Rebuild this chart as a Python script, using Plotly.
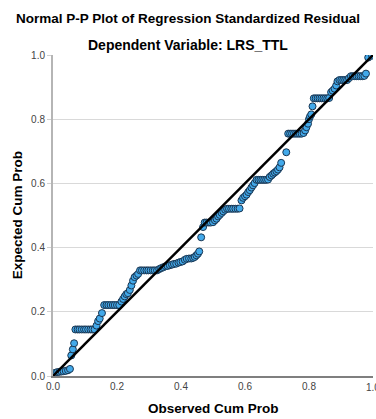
import plotly.graph_objects as go

# Observed cumulative probability (x) and expected cumulative probability (y)
observed = [
    0.007, 0.013, 0.020, 0.027, 0.033, 0.040, 0.047, 0.053, 0.057, 0.062, 0.066,
    0.070, 0.077, 0.083, 0.090, 0.097, 0.103, 0.110, 0.117, 0.123, 0.130,
    0.136, 0.141, 0.146, 0.153,
    0.160, 0.167, 0.173, 0.180, 0.187, 0.193, 0.200, 0.207,
    0.214, 0.219, 0.224, 0.229, 0.234, 0.240, 0.245, 0.250, 0.255, 0.261, 0.266,
    0.272, 0.278, 0.285, 0.292, 0.298, 0.305, 0.312, 0.318, 0.325,
    0.332, 0.338, 0.345, 0.352, 0.358, 0.365, 0.372, 0.378, 0.385, 0.392, 0.398,
    0.405, 0.412, 0.418, 0.425, 0.432, 0.438, 0.443, 0.448, 0.453, 0.457, 0.463, 0.469,
    0.474, 0.480, 0.487, 0.493, 0.500,
    0.506, 0.511, 0.516, 0.521, 0.527, 0.532, 0.538,
    0.544, 0.550, 0.557, 0.563, 0.570, 0.577, 0.583,
    0.589, 0.594, 0.600, 0.605, 0.610, 0.615, 0.620, 0.625, 0.630,
    0.636, 0.642, 0.648, 0.654, 0.660, 0.666, 0.672,
    0.677, 0.683, 0.688, 0.693, 0.698, 0.703, 0.708, 0.713, 0.729,
    0.735, 0.741, 0.747, 0.753, 0.759, 0.765, 0.771, 0.777, 0.783,
    0.788, 0.792, 0.797, 0.800, 0.803, 0.807, 0.811,
    0.815, 0.821, 0.827, 0.833, 0.839, 0.845, 0.851, 0.857, 0.863,
    0.869, 0.874, 0.880, 0.885, 0.889,
    0.895, 0.901, 0.907, 0.913, 0.919, 0.925,
    0.931, 0.937, 0.943, 0.949, 0.955, 0.961, 0.967, 0.973, 0.978,
    0.985, 0.997,
]
expected = [
    0.010, 0.012, 0.013, 0.014, 0.015, 0.016, 0.018, 0.022, 0.064, 0.083, 0.102,
    0.145, 0.145, 0.145, 0.145, 0.145, 0.145, 0.145, 0.145, 0.145, 0.145,
    0.157, 0.171, 0.179, 0.196,
    0.221, 0.221, 0.221, 0.221, 0.221, 0.221, 0.221, 0.221,
    0.232, 0.240, 0.248, 0.255, 0.258, 0.268, 0.282, 0.297, 0.308, 0.313, 0.318,
    0.329, 0.329, 0.329, 0.329, 0.329, 0.329, 0.329, 0.329, 0.329,
    0.333, 0.336, 0.339, 0.342, 0.343, 0.345, 0.347, 0.349, 0.350, 0.353, 0.355,
    0.357, 0.362, 0.365, 0.366, 0.366, 0.368, 0.371, 0.376, 0.381, 0.388, 0.432, 0.464,
    0.478, 0.478, 0.478, 0.478, 0.479,
    0.485, 0.490, 0.497, 0.502, 0.508, 0.513, 0.518,
    0.521, 0.521, 0.521, 0.521, 0.521, 0.521, 0.522,
    0.547, 0.555, 0.560, 0.565, 0.573, 0.579, 0.587, 0.594, 0.601,
    0.611, 0.611, 0.611, 0.611, 0.611, 0.611, 0.612,
    0.620, 0.625, 0.630, 0.634, 0.638, 0.643, 0.650, 0.664, 0.697,
    0.755, 0.755, 0.755, 0.755, 0.755, 0.755, 0.755, 0.755, 0.757,
    0.765, 0.775, 0.786, 0.800, 0.808, 0.815, 0.840,
    0.865, 0.865, 0.865, 0.865, 0.865, 0.865, 0.865, 0.865, 0.866,
    0.884, 0.889, 0.895, 0.905, 0.918,
    0.922, 0.922, 0.922, 0.922, 0.922, 0.928,
    0.934, 0.934, 0.934, 0.934, 0.934, 0.934, 0.934, 0.935, 0.942,
    0.992, 0.998,
]
ref_line = [0.0, 1.0]
tick_vals = [0.0, 0.2, 0.4, 0.6, 0.8, 1.0]
tick_text = ["0.0", "0.2", "0.4", "0.6", "0.8", "1.0"]

FONT = "Arial, 'Liberation Sans', sans-serif"
TICK_FONT = dict(family=FONT, size=10, color="#444444")

fig = go.Figure()
fig.add_trace(go.Scatter(
    x=observed, y=expected, mode="markers",
    marker=dict(size=7, color="#42a9ea", line=dict(color="#1a3652", width=1)),
    showlegend=False, hoverinfo="skip",
))
fig.add_trace(go.Scatter(
    x=ref_line, y=ref_line, mode="lines",
    line=dict(color="black", width=2.5),
    showlegend=False, hoverinfo="skip",
))

annotations = [
    dict(text="<b>Dependent Variable: LRS_TTL</b>", xref="paper", yref="paper",
         x=(188 - 53.3) / 320, y=(375.5 - 44) / 321, xanchor="center", yanchor="middle",
         showarrow=False, font=dict(family=FONT, size=14, color="black")),
    dict(text="<b>Observed Cum Prob</b>", xref="paper", yref="paper",
         x=0.5, y=(375.5 - 408) / 321, xanchor="center", yanchor="middle",
         showarrow=False, font=dict(family=FONT, size=13.5, color="black")),
    dict(text="<b>Expected Cum Prob</b>", xref="paper", yref="paper",
         x=(18 - 53.3) / 320, y=0.5, xanchor="center", yanchor="middle",
         textangle=-90, showarrow=False, font=dict(family=FONT, size=13.5, color="black")),
]
# last x tick label (runs off the right edge, as in the reference)
annotations.append(dict(
    text=tick_text[-1], xref="x", yref="paper", x=tick_vals[-1], y=0,
    yshift=-11, xanchor="center", yanchor="middle", showarrow=False, font=TICK_FONT,
))

fig.update_layout(
    width=376, height=419,
    margin=dict(l=53, r=3, t=55, b=43),
    paper_bgcolor="white", plot_bgcolor="white",
    font=dict(family=FONT, color="#333333"),
    title=dict(
        text="<b>Normal P-P Plot of Regression Standardized Residual</b>",
        x=0.5, xref="container", xanchor="center",
        y=1 - 18 / 419, yref="container", yanchor="middle",
        font=dict(family=FONT, size=13.5, color="black"),
    ),
    xaxis=dict(
        range=[0, 1], tickvals=tick_vals[:-1], ticktext=tick_text[:-1],
        showgrid=False, zeroline=False,
        showline=True, linecolor="#7f7f7f", linewidth=1.5,
        ticks="", tickfont=TICK_FONT,
        fixedrange=True,
    ),
    yaxis=dict(
        range=[0, 1], tickvals=tick_vals, ticktext=tick_text,
        showgrid=True, gridcolor="#d9d9d9", gridwidth=1,
        zeroline=False,
        showline=True, linecolor="#b5b5b5", linewidth=2,
        ticks="outside", ticklen=4, tickcolor="#d0d0d0",
        tickfont=TICK_FONT,
        fixedrange=True,
    ),
    annotations=annotations,
)

fig.write_html("out.html")
